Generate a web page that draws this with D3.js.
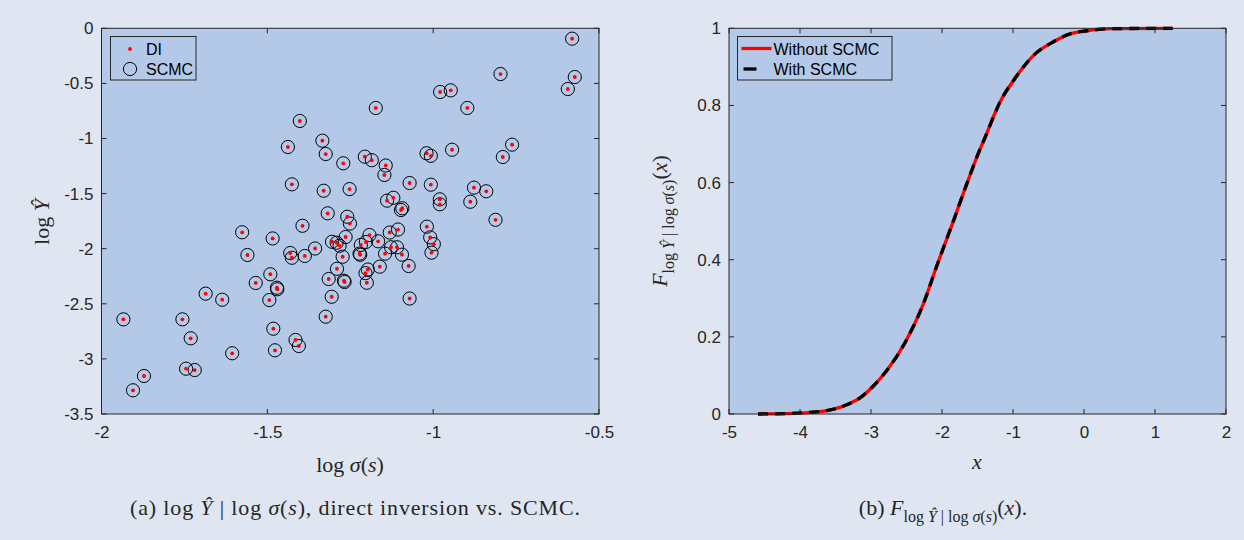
<!DOCTYPE html>
<html><head><meta charset="utf-8">
<script src="https://cdn.jsdelivr.net/npm/d3@7"></script>
<style>
html,body{margin:0;padding:0;background:#dfe6f2;}
svg{display:block;}
.tick text{font-family:"Liberation Sans",Arial,sans-serif;font-size:17px;fill:#262626;}
.ser{font-family:"Liberation Serif","DejaVu Serif",serif;fill:#262626;}
</style></head>
<body>
<svg id="c" width="1244" height="540"></svg>
<script>
// ---- Data: left panel (log sigma(s), log Y-hat) ----
const logSigma = [-1.402,-1.438,-1.334,-1.324,-1.271,-1.426,-1.330,-1.252,-1.318,-1.259,
 -0.581,-0.797,-0.573,-0.594,-0.979,-0.947,-1.173,-0.897,-0.762,-0.790,
 -0.943,-1.020,-1.007,-1.206,-1.185,-1.143,-1.147,-1.071,-1.007,-0.877,
 -0.840,-1.139,-1.120,-1.093,-1.097,-0.980,-0.980,-0.888,-0.812,-1.251,
 -1.576,-1.484,-1.394,-1.560,-1.431,-1.426,-1.387,-1.356,-1.305,-1.291,
 -1.282,-1.264,-1.273,-1.290,-1.315,-1.269,-1.267,-1.306,-1.324,-1.491,
 -1.535,-1.471,-1.470,-1.494,-1.686,-1.636,-1.934,-1.756,-1.731,-1.482,
 -1.415,-1.405,-1.477,-1.606,-1.745,-1.719,-1.872,-1.905,-1.192,-1.203,
 -1.218,-1.166,-1.131,-1.106,-1.019,-1.009,-0.998,-1.005,-1.127,-1.109,
 -1.145,-1.094,-1.222,-1.074,-1.161,-1.197,-1.204,-1.200,-1.071,-1.220];
const logY = [-0.841,-1.077,-1.020,-1.141,-1.225,-1.416,-1.474,-1.459,-1.679,-1.710,
 -0.094,-0.415,-0.442,-0.551,-0.578,-0.563,-0.723,-0.723,-1.056,-1.168,
 -1.102,-1.134,-1.157,-1.165,-1.197,-1.245,-1.331,-1.404,-1.419,-1.446,
 -1.479,-1.564,-1.538,-1.633,-1.649,-1.552,-1.597,-1.574,-1.738,-1.772,
 -1.851,-1.907,-1.792,-2.057,-2.039,-2.082,-2.066,-1.998,-1.937,-1.946,
 -1.973,-1.894,-2.073,-2.182,-2.275,-2.290,-2.302,-2.436,-2.617,-2.232,
 -2.311,-2.354,-2.368,-2.466,-2.408,-2.463,-2.641,-2.641,-2.813,-2.726,
 -2.828,-2.883,-2.922,-2.949,-3.089,-3.101,-3.155,-3.285,-1.876,-1.939,
 -1.966,-1.933,-1.853,-1.826,-1.800,-1.897,-1.959,-2.036,-1.987,-1.987,
 -2.045,-2.054,-2.045,-2.157,-2.163,-2.189,-2.222,-2.309,-2.452,-2.055];
const leftXTicks = [-2,-1.5,-1,-0.5];
const leftYTicks = [0,-0.5,-1,-1.5,-2,-2.5,-3,-3.5];

// ---- Data: right panel (CDF) ----
const cdfX = [-4.59,-4.2,-3.81,-3.62,-3.44,-3.30,-3.16,-2.97,-2.87,-2.78,-2.50,-2.27,-2.06,-1.85,-1.66,-1.47,-1.40,-1.23,-1.19,-0.98,-0.68,-0.45,-0.17,0.02,0.39,1.25];
const cdfWithout = [0,0.001,0.005,0.009,0.017,0.027,0.041,0.072,0.092,0.112,0.192,0.282,0.391,0.495,0.592,0.684,0.714,0.790,0.806,0.868,0.935,0.963,0.987,0.993,0.999,1.0];
const cdfWith = cdfWithout.slice();
const rightXTicks = [-5,-4,-3,-2,-1,0,1,2];
const rightYTicks = [0,0.2,0.4,0.6,0.8,1];

const svg = d3.select("#c");
const plotBg = "#b4c9e8", axCol = "#262626";
svg.append("rect").attr("width",1244).attr("height",540).attr("fill","#dfe6f2");

const T = 28.3, B = 414;

function drawAxes(g, x, y, xt, yt){
  const [x0,x1] = x.range(), [y0,y1] = [y.range()[1], y.range()[0]];
  g.append("rect").attr("x",x0).attr("y",y0).attr("width",x1-x0).attr("height",y1-y0).attr("fill",plotBg);
  return function(){
    const tl = 5;
    const ax = g.append("g");
    ax.append("g").attr("transform",`translate(0,${y1})`).call(d3.axisBottom(x).tickValues(xt).tickSize(0).tickPadding(12).tickFormat(d=>String(d))).call(s=>s.select(".domain").remove());
    ax.append("g").attr("transform",`translate(${x0},0)`).call(d3.axisLeft(y).tickValues(yt).tickSize(0).tickPadding(8).tickFormat(d=>String(d))).call(s=>s.select(".domain").remove());
    xt.forEach(v=>{
      ax.append("line").attr("x1",x(v)).attr("x2",x(v)).attr("y1",y1).attr("y2",y1-tl).attr("stroke",axCol);
      ax.append("line").attr("x1",x(v)).attr("x2",x(v)).attr("y1",y0).attr("y2",y0+tl).attr("stroke",axCol);
    });
    yt.forEach(v=>{
      ax.append("line").attr("y1",y(v)).attr("y2",y(v)).attr("x1",x0).attr("x2",x0+tl).attr("stroke",axCol);
      ax.append("line").attr("y1",y(v)).attr("y2",y(v)).attr("x1",x1).attr("x2",x1-tl).attr("stroke",axCol);
    });
    ax.append("rect").attr("x",x0).attr("y",y0).attr("width",x1-x0).attr("height",y1-y0).attr("fill","none").attr("stroke",axCol).attr("stroke-width",1);
    ax.selectAll(".tick text").attr("fill",axCol);
  };
}

// ---------- Left panel ----------
const xL = d3.scaleLinear().domain([-2,-0.5]).range([101.5,599]);
const yL = d3.scaleLinear().domain([-3.5,0]).range([B,T]);
const gL = svg.append("g");
const finishL = drawAxes(gL, xL, yL, leftXTicks, leftYTicks);
const pts = logSigma.map((v,i)=>({x:v,y:logY[i]}));
gL.append("g").selectAll("circle").data(pts).join("circle")
  .attr("cx",d=>xL(d.x)).attr("cy",d=>yL(d.y)).attr("r",6.6)
  .attr("fill","none").attr("stroke","#000").attr("stroke-width",1);
gL.append("g").selectAll("circle").data(pts).join("circle")
  .attr("cx",d=>xL(d.x)).attr("cy",d=>yL(d.y)).attr("r",1.9).attr("fill","#ff0000");
finishL();
const legFont = "Liberation Sans,Arial,sans-serif";
const lg = gL.append("g");
lg.append("rect").attr("x",110.5).attr("y",36.5).attr("width",85.5).attr("height",43.5).attr("fill",plotBg).attr("stroke",axCol);
lg.append("circle").attr("cx",130).attr("cy",49).attr("r",1.9).attr("fill","#ff0000");
lg.append("circle").attr("cx",130).attr("cy",69).attr("r",6.6).attr("fill","none").attr("stroke","#000");
lg.append("text").attr("x",146).attr("y",54.5).text("DI").style("font-family",legFont).style("font-size","16px").attr("fill","#000");
lg.append("text").attr("x",146).attr("y",74.5).text("SCMC").style("font-family",legFont).style("font-size","16px").attr("fill","#000");

const xlabL = svg.append("text").attr("class","ser").attr("x",350).attr("y",472).attr("text-anchor","middle").style("font-size","22px");
xlabL.append("tspan").text("log ");
xlabL.append("tspan").attr("font-style","italic").text("σ");
xlabL.append("tspan").text("(");
xlabL.append("tspan").attr("font-style","italic").text("s");
xlabL.append("tspan").text(")");
const ylabL = svg.append("text").attr("class","ser").attr("transform","translate(49,222) rotate(-90)").attr("text-anchor","middle").style("font-size","22px");
ylabL.append("tspan").text("log ");
ylabL.append("tspan").attr("font-style","italic").text("Ŷ");

const capA = svg.append("text").attr("class","ser").attr("x",355).attr("y",515).attr("text-anchor","middle").style("font-size","22px")
  .attr("textLength",450).attr("lengthAdjust","spacing");
capA.append("tspan").text("(a)  log ");
capA.append("tspan").attr("font-style","italic").text("Ŷ");
capA.append("tspan").text(" | log ");
capA.append("tspan").attr("font-style","italic").text("σ");
capA.append("tspan").text("(");
capA.append("tspan").attr("font-style","italic").text("s");
capA.append("tspan").text("), direct inversion vs. SCMC.");

// ---------- Right panel ----------
const xR = d3.scaleLinear().domain([-5,2]).range([729,1226]);
const yR = d3.scaleLinear().domain([0,1]).range([B,T]);
const gR = svg.append("g");
const finishR = drawAxes(gR, xR, yR, rightXTicks, rightYTicks);
const line = d3.line().x(d=>xR(d[0])).y(d=>yR(d[1])).curve(d3.curveMonotoneX);
gR.append("path").attr("d",line(cdfX.map((v,i)=>[v,cdfWithout[i]]))).attr("fill","none").attr("stroke","#ff0000").attr("stroke-width",3.3);
gR.append("path").attr("d",line(cdfX.map((v,i)=>[v,cdfWith[i]]))).attr("fill","none").attr("stroke","#000").attr("stroke-width",3.3).attr("stroke-dasharray","10,7");
finishR();
const lgR = gR.append("g");
lgR.append("rect").attr("x",737.5).attr("y",36.5).attr("width",154.5).attr("height",43.5).attr("fill",plotBg).attr("stroke",axCol);
lgR.append("line").attr("x1",741.5).attr("x2",771.5).attr("y1",48.5).attr("y2",48.5).attr("stroke","#ff0000").attr("stroke-width",3.3);
lgR.append("line").attr("x1",743.5).attr("x2",756.5).attr("y1",69).attr("y2",69).attr("stroke","#000").attr("stroke-width",3.3);
lgR.append("text").attr("x",773.5).attr("y",54.5).text("Without SCMC").style("font-family",legFont).style("font-size","16px").attr("fill","#000");
lgR.append("text").attr("x",773.5).attr("y",74.5).text("With SCMC").style("font-family",legFont).style("font-size","16px").attr("fill","#000");

svg.append("text").attr("class","ser").attr("x",977).attr("y",469).attr("text-anchor","middle").style("font-size","22px").attr("font-style","italic").text("x");

function fLabel(t, subSize){
  t.append("tspan").attr("font-style","italic").text("F");
  const sub = [["log ",""],["Ŷ","italic"],[" | log ",""],["σ","italic"],["(",""],["s","italic"],[")",""]];
  sub.forEach((s,i)=>{
    const ts = t.append("tspan").style("font-size",subSize+"px").text(s[0]);
    if(s[1]) ts.attr("font-style","italic");
    if(i===0) ts.attr("dy",7);
  });
  t.append("tspan").attr("dy",-7).text("(");
  t.append("tspan").attr("font-style","italic").text("x");
  t.append("tspan").text(")");
}
const ylabR = svg.append("text").attr("class","ser").attr("transform","translate(667,221) rotate(-90)").attr("text-anchor","middle").style("font-size","22px");
fLabel(ylabR, 16);
const capB = svg.append("text").attr("class","ser").attr("x",943).attr("y",515).attr("text-anchor","middle").style("font-size","22px");
capB.append("tspan").text("(b)  ");
fLabel(capB, 16);
capB.append("tspan").text(".");
</script>
</body></html>
